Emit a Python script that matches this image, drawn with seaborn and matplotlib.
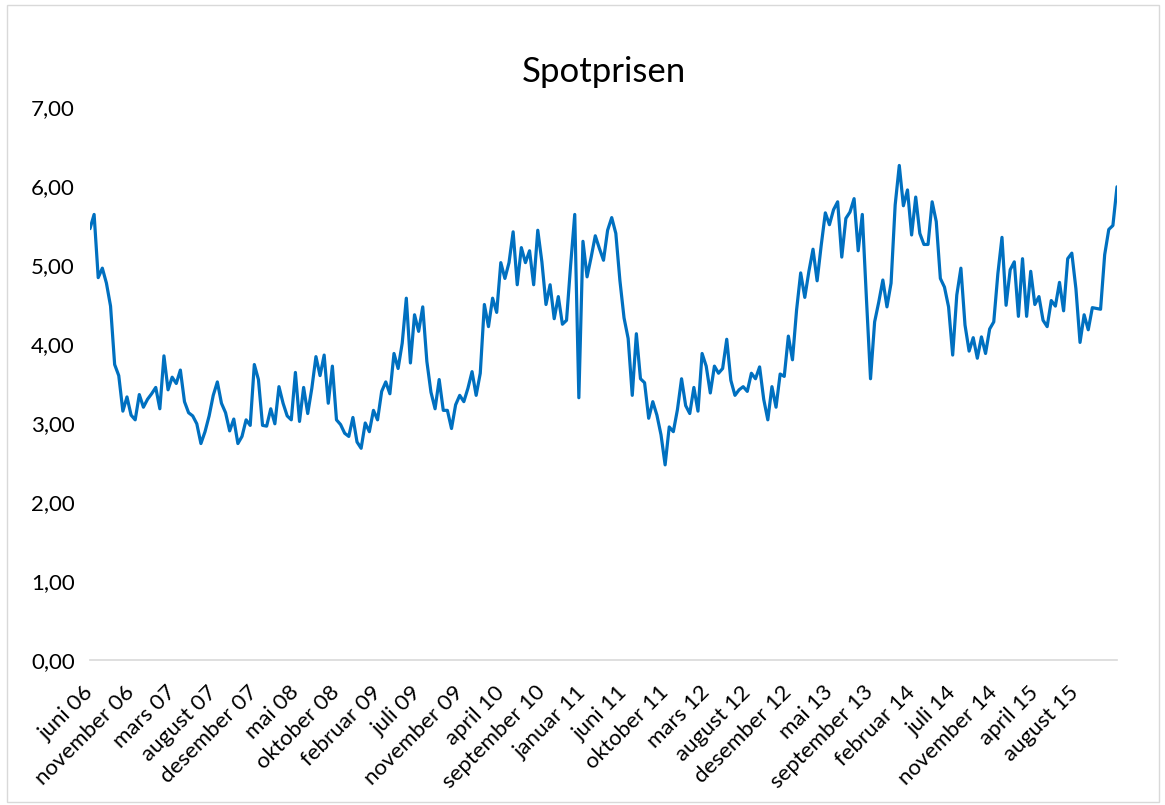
import matplotlib
matplotlib.use("Agg")
import matplotlib.pyplot as plt
from matplotlib.patches import Rectangle
from matplotlib.ticker import FuncFormatter
import pandas as pd
import seaborn as sns

# ukentlig spotpris (annenhver uke), juni 2006 - des 2015
start_dato = "2006-06-19"
steg_dager = 14
spotpris = [
    5.46, 5.64, 4.84, 4.96, 4.77, 4.48, 3.74, 3.60, 3.15, 3.33,
    3.10, 3.04, 3.36, 3.20, 3.30, 3.37, 3.45, 3.18, 3.85, 3.42,
    3.58, 3.50, 3.67, 3.27, 3.13, 3.09, 2.99, 2.74, 2.89, 3.09,
    3.35, 3.52, 3.25, 3.13, 2.90, 3.05, 2.74, 2.83, 3.04, 2.97,
    3.74, 3.55, 2.97, 2.96, 3.18, 2.99, 3.46, 3.25, 3.09, 3.04,
    3.64, 3.02, 3.45, 3.12, 3.44, 3.84, 3.60, 3.86, 3.25, 3.72,
    3.04, 2.98, 2.87, 2.83, 3.07, 2.76, 2.68, 3.00, 2.89, 3.16,
    3.04, 3.40, 3.52, 3.37, 3.88, 3.69, 4.01, 4.58, 3.76, 4.37,
    4.16, 4.47, 3.78, 3.39, 3.18, 3.55, 3.16, 3.16, 2.93, 3.23,
    3.35, 3.27, 3.44, 3.65, 3.35, 3.63, 4.50, 4.22, 4.58, 4.40,
    5.03, 4.83, 5.03, 5.42, 4.75, 5.22, 5.03, 5.18, 4.75, 5.44,
    5.04, 4.50, 4.75, 4.32, 4.60, 4.25, 4.30, 5.00, 5.64, 3.32,
    5.30, 4.85, 5.10, 5.37, 5.21, 5.06, 5.44, 5.60, 5.40, 4.80,
    4.33, 4.07, 3.35, 4.13, 3.56, 3.51, 3.06, 3.27, 3.10, 2.85,
    2.47, 2.95, 2.89, 3.17, 3.56, 3.22, 3.12, 3.45, 3.15, 3.88,
    3.72, 3.38, 3.72, 3.63, 3.69, 4.06, 3.54, 3.35, 3.42, 3.46,
    3.40, 3.63, 3.56, 3.71, 3.30, 3.04, 3.46, 3.20, 3.62, 3.59,
    4.10, 3.80, 4.43, 4.90, 4.59, 4.92, 5.20, 4.80, 5.25, 5.66,
    5.51, 5.70, 5.80, 5.10, 5.59, 5.67, 5.84, 5.18, 5.64, 4.58,
    3.56, 4.28, 4.53, 4.81, 4.47, 4.77, 5.76, 6.26, 5.75, 5.95,
    5.38, 5.86, 5.40, 5.26, 5.26, 5.80, 5.55, 4.83, 4.72, 4.47,
    3.86, 4.62, 4.96, 4.24, 3.91, 4.08, 3.82, 4.09, 3.88, 4.19,
    4.28, 4.89, 5.35, 4.49, 4.94, 5.04, 4.35, 5.08, 4.35, 4.92,
    4.50, 4.60, 4.30, 4.22, 4.55, 4.48, 4.78, 4.42, 5.08, 5.15,
    4.70, 4.02, 4.37, 4.18, 4.46, 4.45, 4.44, 5.13, 5.45, 5.50, 5.99,
]

tick_labels = [
    "juni 06", "november 06", "mars 07", "august 07", "desember 07",
    "mai 08", "oktober 08", "februar 09", "juli 09", "november 09",
    "april 10", "september 10", "januar 11", "juni 11", "oktober 11",
    "mars 12", "august 12", "desember 12", "mai 13", "september 13",
    "februar 14", "juli 14", "november 14", "april 15", "august 15",
]
tick_every = 10

df = pd.DataFrame({
    "Dato": pd.date_range(start_dato, periods=len(spotpris), freq=f"{steg_dager}D"),
    "Spotpris": spotpris,
})

sns.set_theme(style="white")
plt.rcParams["font.family"] = ["Lato", "DejaVu Sans"]

fig = plt.figure(figsize=(11.65, 8.05), dpi=100)
ax = fig.add_axes([90 / 1165, 1 - 660 / 805, (1117 - 90) / 1165, (660 - 107) / 805])

sns.lineplot(data=df, x="Dato", y="Spotpris", color="#0070C0", linewidth=2.3, ax=ax)

ax.set_xlim(df["Dato"].iloc[0], df["Dato"].iloc[-1])
ax.set_ylim(0, 7)
ax.set_yticks(range(0, 8))
ax.yaxis.set_major_formatter(FuncFormatter(lambda v, p: f"{v:.2f}".replace(".", ",")))
ax.set_xticks(df["Dato"].iloc[::tick_every][:len(tick_labels)])
ax.set_xticklabels(tick_labels, rotation=45, ha="right", va="center", rotation_mode="anchor")
ax.tick_params(axis="both", length=0, labelsize=16, colors="black")
ax.tick_params(axis="y", pad=11)
ax.tick_params(axis="x", pad=21)
ax.set_xlabel("")
ax.set_ylabel("")

for s in ["top", "right", "left"]:
    ax.spines[s].set_visible(False)
ax.spines["bottom"].set_color("#D9D9D9")
ax.spines["bottom"].set_linewidth(1.2)
ax.grid(False)

ax.set_title("Spotprisen", fontsize=25, pad=18, color="black")

# ramme rundt diagrammet
fig.patches.append(Rectangle((7 / 1165, 3 / 805), 1152 / 1165, 797 / 805, transform=fig.transFigure,
                             fill=False, edgecolor="#D9D9D9", linewidth=1))

fig.savefig("out.png", dpi=100)
